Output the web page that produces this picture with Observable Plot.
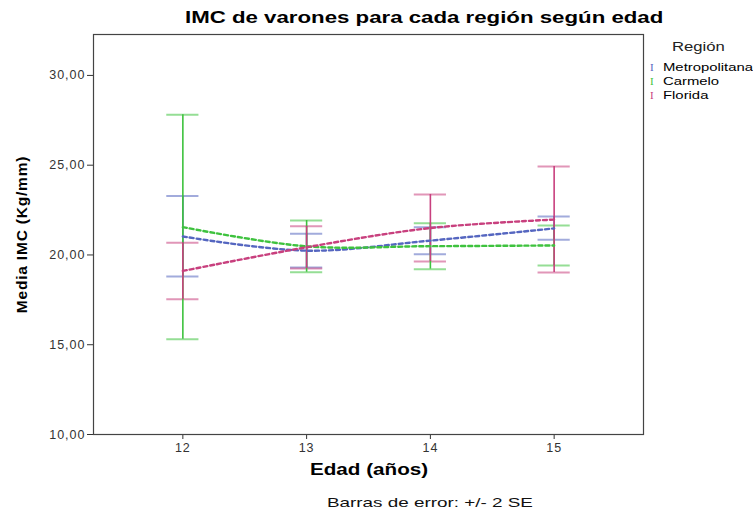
<!DOCTYPE html>
<html>
<head>
<meta charset="utf-8">
<script src="https://cdn.jsdelivr.net/npm/d3@7"></script>
<script src="https://cdn.jsdelivr.net/npm/@observablehq/plot@0.6"></script>
<style>
  body { margin: 0; background: #fff; font-family: "Liberation Sans", Arial, sans-serif; }
  #wrap { position: relative; width: 753px; height: 513px; overflow: hidden; }
  .ov { position: absolute; white-space: nowrap; color: #000; transform-origin: left top; }
  #title { left: 185px; top: 9px; font-size: 16px; font-weight: bold; transform: scaleX(1.39); }
  #xlab { left: 310px; top: 461px; font-size: 16px; font-weight: bold; transform: scaleX(1.29); }
  #foot { left: 327px; top: 495px; font-size: 13px; color: #111; transform: scaleX(1.45); }
  #legtitle { left: 672px; top: 40px; font-size: 12px; color: #222; transform: scaleX(1.39); }
  .legitem { left: 650px; font-size: 11px; }
  .legitem span.sym { font-family: "Liberation Serif", serif; display: inline-block; width: 13px; }
  .legitem span.lab { display: inline-block; transform: scaleX(1.35); transform-origin: left center; }
  svg [aria-label="y-axis label"] text { font-weight: bold; font-size: 15.5px; fill: #000; letter-spacing: 0.8px; }
  svg [aria-label="y-axis tick label"] text, svg [aria-label="x-axis tick label"] text { letter-spacing: 1px; }
</style>
</head>
<body>
<div id="wrap"></div>
<script>
const ages = [12, 13, 14, 15];
const regions = ["Metropolitana", "Carmelo", "Florida"];
const colors = ["#5566c0", "#3ec23e", "#c8407e"];
// means and error bar limits (+/- 2 SE)
const meanMetropolitana = [21.03, 20.24, 20.80, 21.48];
const loMetropolitana   = [18.80, 19.30, 20.04, 20.85];
const hiMetropolitana   = [23.28, 21.18, 21.55, 22.14];
const meanCarmelo = [21.55, 20.48, 20.49, 20.53];
const loCarmelo   = [15.31, 19.04, 19.21, 19.42];
const hiCarmelo   = [27.81, 21.92, 21.77, 21.64];
const meanFlorida = [19.11, 20.43, 21.50, 21.97];
const loFlorida   = [17.54, 19.25, 19.64, 19.03];
const hiFlorida   = [20.68, 21.60, 23.37, 24.93];
const yTicks = [10, 15, 20, 25, 30];

const series = {
  Metropolitana: [meanMetropolitana, loMetropolitana, hiMetropolitana],
  Carmelo: [meanCarmelo, loCarmelo, hiCarmelo],
  Florida: [meanFlorida, loFlorida, hiFlorida]
};
const rows = [];
for (const r of regions) {
  const [m, lo, hi] = series[r];
  ages.forEach((a, i) => rows.push({region: r, age: a, mean: m[i], lo: lo[i], hi: hi[i]}));
}
const capHalf = 0.13;
const fmt = d => d.toFixed(2).replace(".", ",");

const plot = Plot.plot({
  width: 753,
  height: 513,
  marginLeft: 93,
  marginRight: 110,
  marginTop: 34,
  marginBottom: 79,
  style: {fontFamily: "Liberation Sans, Arial, sans-serif", fontSize: "12.5px", color: "#333", background: "transparent"},
  x: {domain: [11.278, 15.722], ticks: ages, tickFormat: d => String(d), label: null, tickSize: 5, tickPadding: 4},
  y: {domain: [10, 32.28], ticks: yTicks, tickFormat: fmt, label: "Media IMC (Kg/mm)", labelAnchor: "center", labelArrow: "none", labelOffset: 78, tickSize: 6, tickPadding: 2},
  color: {domain: regions, range: colors},
  marks: [
    Plot.frame({stroke: "#444", strokeWidth: 1.2}),
    Plot.ruleY(rows, {y: "hi", x1: d => d.age - capHalf, x2: d => d.age + capHalf, stroke: "region", strokeOpacity: 0.55, strokeWidth: 2}),
    Plot.ruleY(rows, {y: "lo", x1: d => d.age - capHalf, x2: d => d.age + capHalf, stroke: "region", strokeOpacity: 0.55, strokeWidth: 2}),
    Plot.ruleX(rows, {x: "age", y1: "lo", y2: "hi", stroke: "region", strokeWidth: 1.6}),
    Plot.line(rows, {x: "age", y: "mean", z: "region", stroke: "region", strokeWidth: 2.4, strokeDasharray: "4,3", curve: "catmull-rom"})
  ]
});

const wrap = document.getElementById("wrap");
wrap.appendChild(plot);
function addText(id, text) {
  const d = document.createElement("div");
  d.id = id;
  d.className = "ov";
  d.textContent = text;
  wrap.appendChild(d);
  return d;
}
addText("title", "IMC de varones para cada región según edad");
addText("xlab", "Edad (años)");
addText("foot", "Barras de error: +/- 2 SE");
addText("legtitle", "Región");
regions.forEach((r, i) => {
  const d = document.createElement("div");
  d.className = "ov legitem";
  d.style.top = (61 + i * 14) + "px";
  const s = document.createElement("span");
  s.className = "sym";
  s.style.color = colors[i];
  s.textContent = "I";
  const l = document.createElement("span");
  l.className = "lab";
  l.textContent = r;
  d.appendChild(s);
  d.appendChild(l);
  wrap.appendChild(d);
});
</script>
</body>
</html>
